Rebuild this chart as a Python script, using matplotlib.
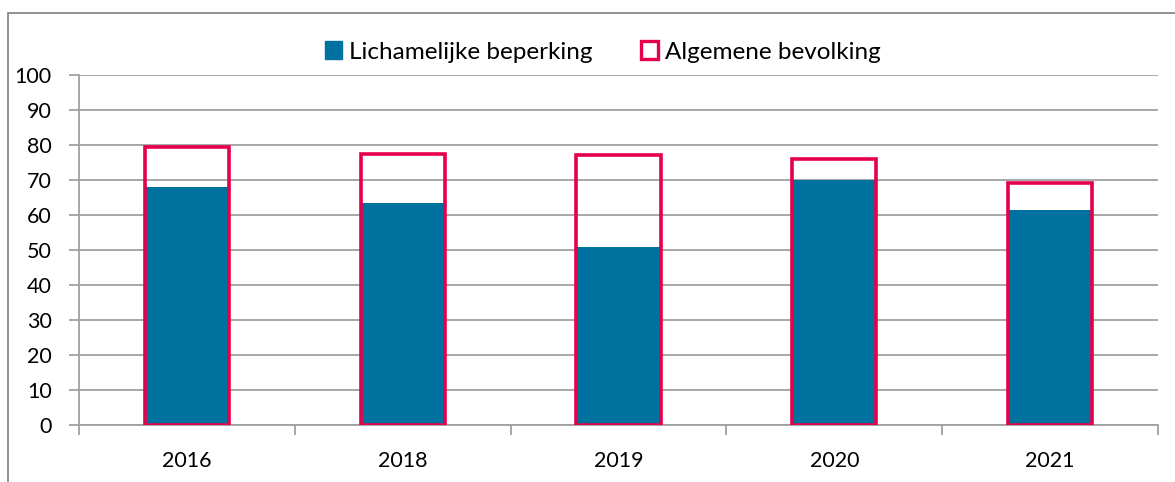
import matplotlib
matplotlib.use("Agg")
import matplotlib.pyplot as plt
from matplotlib.patches import Patch, Rectangle
import numpy as np

years = ["2016", "2018", "2019", "2020", "2021"]
lichamelijk = [68.1, 63.3, 50.8, 70.0, 61.4]
algemeen = [79.3, 77.5, 77.1, 76.1, 69.1]
yticks = list(range(0, 101, 10))

blue = "#0072A0"
red = "#E6004C"
grey = "#A0A0A0"

plt.rcParams['font.family'] = ['Lato', 'DejaVu Sans']

fig = plt.figure(figsize=(11.75, 4.82), dpi=100)
ax = fig.add_axes([79/1175, 1-425/482, (1158-79)/1175, (425-75)/482])

x = np.arange(len(years))
w = 0.39
ax.bar(x, lichamelijk, width=w, color=blue, zorder=3)
ax.bar(x, algemeen, width=w, facecolor="none", edgecolor=red, linewidth=2.6, zorder=4)

ax.set_xlim(-0.5, len(years) - 0.5)
ax.set_ylim(0, 100)
ax.set_yticks(yticks)
ax.set_yticklabels([str(v) for v in yticks], fontsize=15.5)
ax.set_xticks(x)
ax.set_xticklabels(years, fontsize=15.5)
ax.set_xticks(np.arange(-0.5, len(years), 1.0), minor=True)
ax.tick_params(axis='x', which='major', length=0, pad=19)
ax.tick_params(axis='x', which='minor', length=7, color=grey, width=1.3)
ax.tick_params(axis='y', length=7, color=grey, width=1.3, pad=12.5)
ax.grid(axis='y', color=grey, linewidth=1.3, zorder=0)
for s in ['top', 'right']:
    ax.spines[s].set_visible(False)
for s in ['left', 'bottom']:
    ax.spines[s].set_color(grey)
    ax.spines[s].set_linewidth(1.3)

handles = [Patch(facecolor=blue, edgecolor=blue),
           Patch(facecolor="white", edgecolor=red, linewidth=2.4)]
fig.legend(handles, ["Lichamelijke beperking", "Algemene bevolking"],
           loc='center', bbox_to_anchor=(603/1175, 1-52/482), ncol=2,
           frameon=False, fontsize=17.5, handlelength=0.7, handleheight=0.7,
           handletextpad=0.3, columnspacing=2.0)

fig.patches.append(Rectangle((8/1175, -0.1), 1.2, 1 - 13/482 + 0.1,
                             transform=fig.transFigure, fill=False,
                             edgecolor="#888888", linewidth=1.3))

fig.savefig("out.png", dpi=100)
